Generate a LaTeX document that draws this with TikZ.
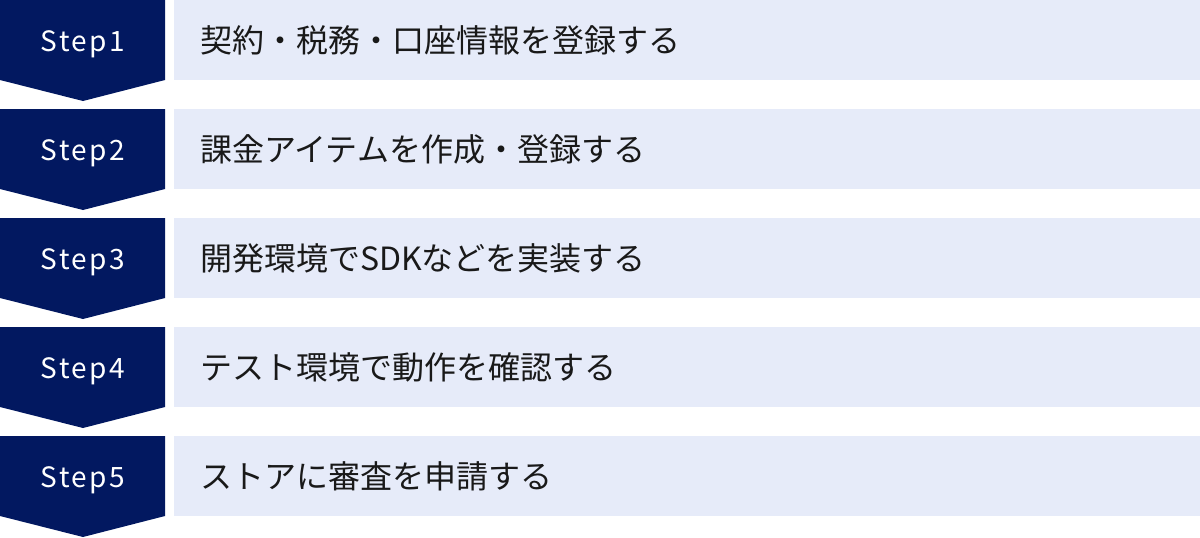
\documentclass[tikz,border=0pt]{standalone}
\usepackage{fontspec}
\setmainfont{Noto Sans CJK JP}
\newfontfamily\stepfont[LetterSpace=9]{Noto Sans CJK JP}
\newfontfamily\jpfont{Noto Sans CJK JP}
\definecolor{navy}{RGB}{2,24,96}
\definecolor{lav}{RGB}{230,235,249}
\tikzset{
  steplabel/.style={text=white, font=\stepfont\fontsize{28}{28}\selectfont, inner sep=0pt, anchor=base},
  jplabel/.style={text=black!90, font=\jpfont\fontsize{32}{32}\selectfont, inner sep=0pt, anchor=west},
  chevron/.style={fill=navy, draw=none},
  bar/.style={fill=lav, draw=none}
}
\begin{document}
\begin{tikzpicture}[x=1pt,y=-1pt]
\useasboundingbox (0,0) rectangle (1200,538);
\foreach \i/\t in {0/{契約・税務・口座情報を登録する},1/{課金アイテムを作成・登録する},2/{開発環境でSDKなどを実装する},3/{テスト環境で動作を確認する},4/{ストアに審査を申請する}}{
  \pgfmathtruncatemacro{\n}{\i+1}
  \pgfmathsetmacro{\yy}{109*\i}
  \fill[chevron] (0,\yy) -- (165,\yy) -- (165,\yy+80) -- (83,\yy+101) -- (0,\yy+80) -- cycle;
  \fill[bar] (174,\yy) rectangle (1200,\yy+80);
  \node[steplabel] (s\n) at (83,\yy+51) {Step\n};
  \node[jplabel] (t\n) at (200,\yy+40) {\t};
}
\end{tikzpicture}
\end{document}
